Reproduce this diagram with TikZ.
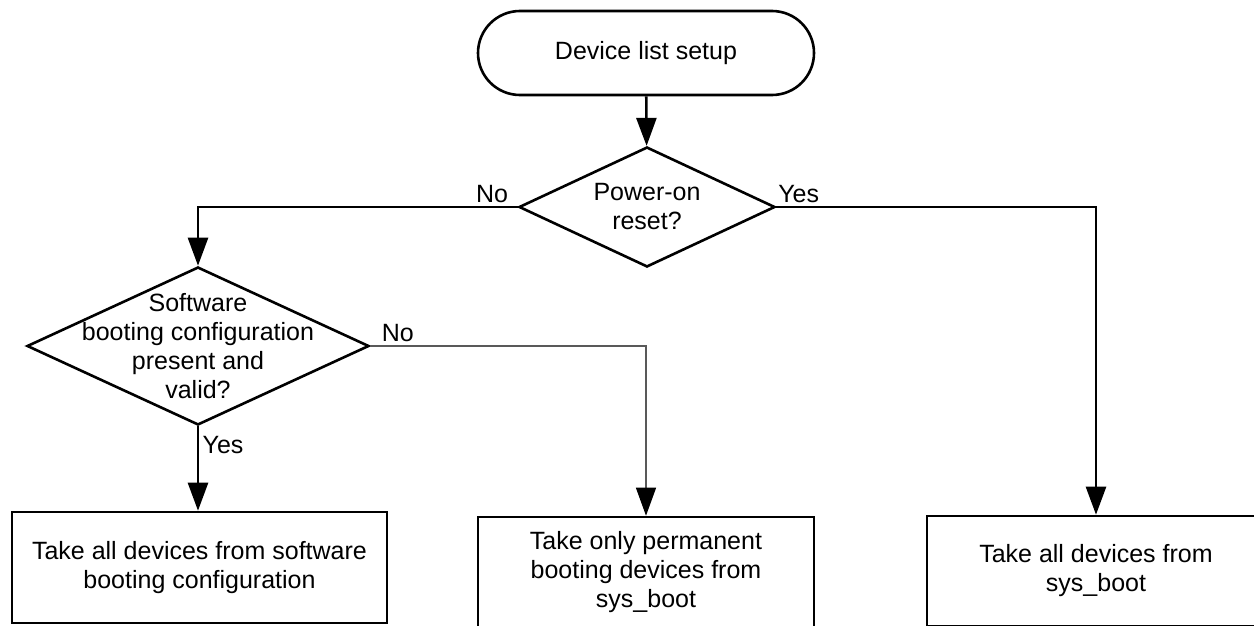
\documentclass[tikz,border=0pt]{standalone}
\usepackage{fontspec}
\setmainfont{Liberation Sans}
\usetikzlibrary{shapes.geometric,arrows.meta}

\begin{document}
\begin{tikzpicture}[x=1pt, y=-1pt,
    >={Triangle[length=28pt,width=20pt]},
    every node/.style={font=\fontsize{25}{29}\selectfont},
    terminal/.style={draw, line width=2.6pt, rounded corners=42pt,
        minimum width=336pt, minimum height=84pt},
    decision/.style={draw, diamond, line width=2.6pt, inner sep=0pt, align=center},
    process/.style={draw, rectangle, line width=2.6pt, align=center},
    flow/.style={->, line width=2.6pt},
    thinflow/.style={-{Triangle[length=28pt,width=20pt,color=black]},
        line width=1.3pt, draw=black!65}]

    % Fix the page to the visible area
    \path[use as bounding box, clip] (0,0) rectangle (1254,626);

    % Start and decisions
    \node[terminal] (setup) at (646,53) {Device list setup};
    \node[decision, aspect=2.13, minimum width=256pt, minimum height=120pt] (reset) at (647,207) {Power-on\\reset?};
    \node[decision, minimum width=342pt, minimum height=158pt,
        label={[align=center]center:Software\\booting configuration\\present and\\valid?}] (valid) at (198,346) {};

    % Result boxes (cut by the bottom edge)
    \node[process, minimum width=375pt, minimum height=111pt] (swcfg) at (199.5,567.5)
        {Take all devices from software\\booting configuration};
    \node[process, minimum width=336pt, minimum height=110pt] (perm) at (646,572)
        {Take only permanent\\booting devices from\\sys\_boot};
    \node[process, minimum width=338pt, minimum height=110pt] (sysboot) at (1096,571)
        {Take all devices from\\sys\_boot};

    % Draw the connectors
    \draw[flow] (setup) -- (reset);
    \draw[flow] (reset.west) -| node[pos=0.04, above] {No} (valid.north);
    \draw[flow] (reset.east) -| node[pos=0.035, above] {Yes} (sysboot.north);
    \draw[flow] (valid.south) -- node[pos=0.22, right] {Yes} (valid.south |- swcfg.north);
    \draw[thinflow] (valid.east) -| node[pos=0.05, above] {No} (perm.north);

\end{tikzpicture}
\end{document}
